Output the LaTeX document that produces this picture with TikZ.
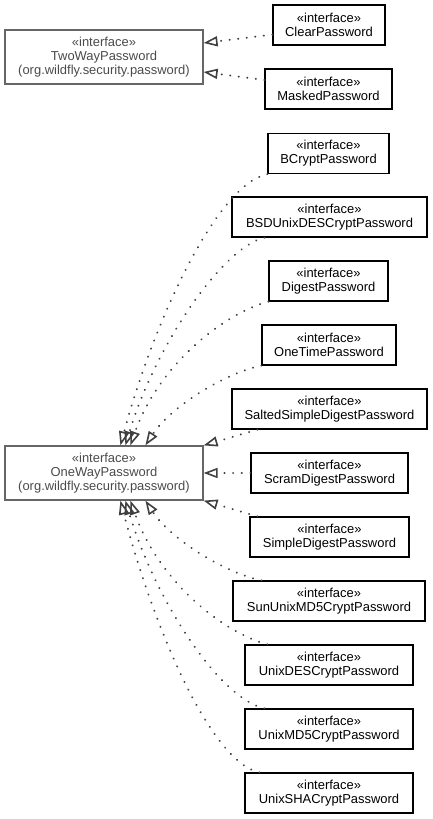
\documentclass[tikz,border=0pt]{standalone}
\usepackage{fontspec}
\setmainfont{Liberation Sans}
\usetikzlibrary{arrows.meta,calc}
\definecolor{pborder}{HTML}{666666}
\definecolor{ptext}{HTML}{4A4A4A}
\definecolor{edgec}{HTML}{404040}
\begin{document}
\begin{tikzpicture}[x=1bp,y=-1bp,
  cbox/.style={draw=black, line width=1.2bp, minimum height=40bp, inner sep=0pt, align=center,
    font=\fontsize{13}{14}\selectfont, text=black},
  pbox/.style={draw=pborder, line width=1.2bp, minimum height=54bp, minimum width=198bp, inner sep=0pt,
    align=center, font=\fontsize{13}{14}\selectfont, text=ptext},
  realize/.style={draw=edgec, line width=2.1bp, line cap=round, dash pattern=on 0.1bp off 8.5bp,
    -{Triangle[open, length=14bp, width=10bp, line width=1.6bp]}}
]
\useasboundingbox (0,0) rectangle (432,819);

% parents
\node[pbox] (twoway) at (104,57) {«interface»\\TwoWayPassword\\(org.wildfly.security.password)};
\node[pbox] (oneway) at (104,473) {«interface»\\OneWayPassword\\(org.wildfly.security.password)};

% children
\node[cbox, minimum width=112bp] (clear)    at (329,25)    {«interface»\\ClearPassword};
\node[cbox, minimum width=127bp] (masked)   at (328.5,89)  {«interface»\\MaskedPassword};
\node[cbox, minimum width=121bp] (bcrypt)   at (328.5,153.5) {«interface»\\BCryptPassword};
\node[cbox, minimum width=195bp] (bsd)      at (329.5,217) {«interface»\\BSDUnixDESCryptPassword};
\node[cbox, minimum width=119bp] (digest)   at (328.5,281) {«interface»\\DigestPassword};
\node[cbox, minimum width=134bp] (onetime)  at (329,345)   {«interface»\\OneTimePassword};
\node[cbox, minimum width=195bp] (salted)   at (329.5,409) {«interface»\\SaltedSimpleDigestPassword};
\node[cbox, minimum width=157bp] (scram)    at (329.5,473) {«interface»\\ScramDigestPassword};
\node[cbox, minimum width=159bp] (simple)   at (329.5,537) {«interface»\\SimpleDigestPassword};
\node[cbox, minimum width=192bp] (sun)      at (329,601)   {«interface»\\SunUnixMD5CryptPassword};
\node[cbox, minimum width=168bp] (unixdes)  at (329,665)   {«interface»\\UnixDESCryptPassword};
\node[cbox, minimum width=168bp] (unixmd5)  at (329,729)   {«interface»\\UnixMD5CryptPassword};
\node[cbox, minimum width=168bp] (unixsha)  at (329,793)   {«interface»\\UnixSHACryptPassword};

% edges to TwoWayPassword
\draw[realize] ($(clear.south west)+(0,-11)$) -- ($(twoway.east)+(0,-14)$);
\draw[realize] ($(masked.west)+(0,-9)$) -- ($(twoway.east)+(0,15)$);

% edges to OneWayPassword (top)
\draw[realize] (bcrypt.south west) .. controls +(-50,10) and +(34,-126) .. ($(oneway.north west)+(116,0)$);
\draw[realize] ($(bsd.south west)+(33,0)$) .. controls +(-42,10) and +(30,-100) .. ($(oneway.north west)+(121,0)$);
\draw[realize] (digest.south west) .. controls +(-45,12) and +(28,-80) .. ($(oneway.north west)+(126,0)$);
\draw[realize] (onetime.south west) .. controls +(-38,8) and +(25,-38) .. ($(oneway.north west)+(141,0)$);
\draw[realize] ($(salted.south west)+(26,0)$) -- (oneway.north east);
\draw[realize] (scram.west) -- (oneway.east);
% bottom
\draw[realize] ($(simple.north west)+(8,0)$) -- (oneway.south east);
\draw[realize] ($(sun.north west)+(29,0)$) .. controls +(-38,-8) and +(25,38) .. ($(oneway.south west)+(141,0)$);
\draw[realize] ($(unixdes.north west)+(23,0)$) .. controls +(-45,-12) and +(28,80) .. ($(oneway.south west)+(126,0)$);
\draw[realize] ($(unixmd5.north west)+(20,0)$) .. controls +(-45,-10) and +(30,100) .. ($(oneway.south west)+(121,0)$);
\draw[realize] ($(unixsha.north west)+(15,0)$) .. controls +(-48,-10) and +(34,130) .. ($(oneway.south west)+(116,0)$);
\end{tikzpicture}
\end{document}
